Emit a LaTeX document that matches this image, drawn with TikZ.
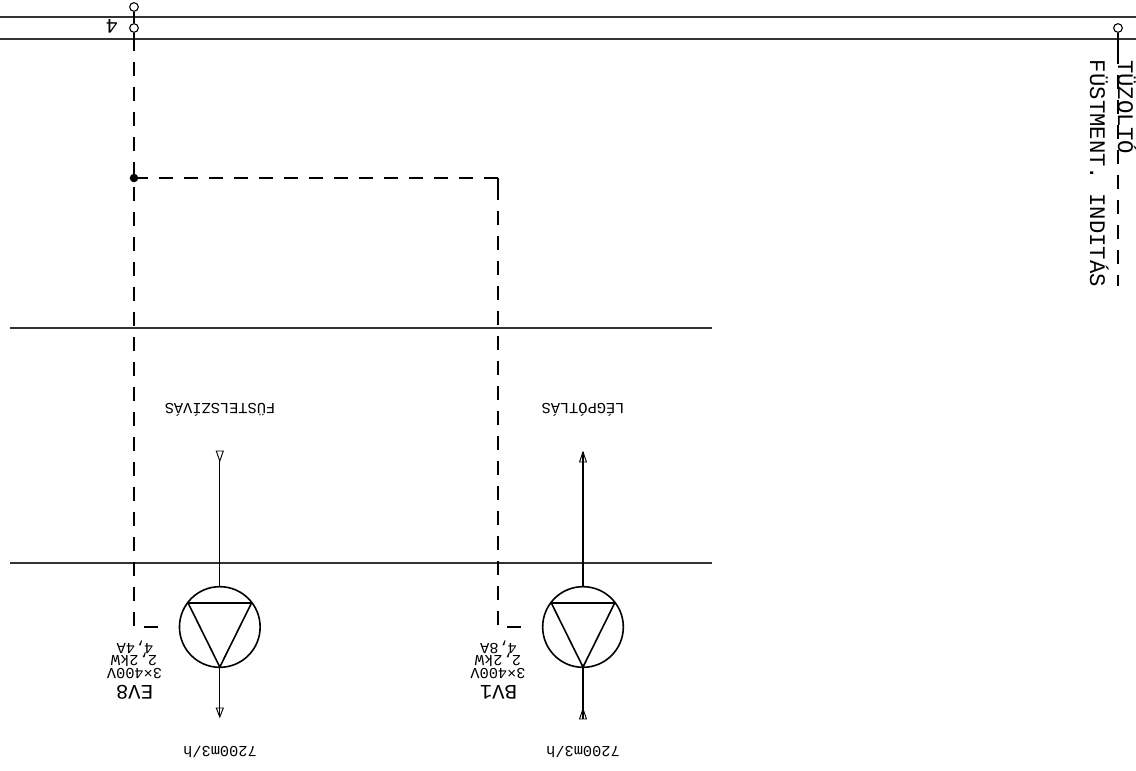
\documentclass[tikz,border=0pt]{standalone}
\usepackage{fontspec}
\setmainfont{Liberation Mono}
\tikzset{
  x=0.75pt,y=-0.75pt,
  wire/.style={line width=0.8pt,black!80},
  plain/.style={line width=0.8pt,black},
  ctrl/.style={line width=0.8pt,black,dash pattern=on 10.5pt off 8.25pt},
  term/.style={circle,draw,line width=0.8pt,fill=white,minimum size=6.5pt,inner sep=0pt},
  fanc/.style={circle,draw,line width=1.2pt,minimum size=60.5pt,inner sep=0pt},
  lbl/.style={inner sep=0pt,rotate=180,anchor=base},
  sidelbl/.style={inner sep=0pt,rotate=-90,anchor=base,font=\fontsize{16.7}{16.7}\selectfont},
  big/.style={font=\fontsize{15.5}{15.5}\selectfont},
  mid/.style={font=\fontsize{11.5}{11.5}\selectfont},
  head/.style={line width=0.7pt,black},
}
\begin{document}
\begin{tikzpicture}
\useasboundingbox (0,0) rectangle (1136,771);
\draw[wire] (0,17) -- (1136,17);
\draw[wire] (0,39) -- (1136,39);
\draw[wire] (10,328) -- (712,328);
\draw[wire] (10,563) -- (712,563);
% terminals
\node[term] (t1) at (134,7) {};
\node[term] (t2) at (134,28) {};
\node[term] (t3) at (1118,28) {};
\draw[plain] (t1) -- (t2);
\node[lbl,big] (n4) at (112,19) {4};
% control lines
\coordinate (j) at (134,178);
\coordinate (c1) at (498,178);
\coordinate (b1) at (134,627);
\coordinate (b2) at (498,627);
\coordinate (e1) at (167,627);
\coordinate (e2) at (531,627);
\node[fanc] (f1) at (219.8,627) {};
\node[fanc] (f2) at (583,627) {};
\fill (j) circle (3.2pt);
% left column
\coordinate (s1) at (134,51);
\coordinate (s2) at (134,62);
\draw[plain] (t2) -- (s1);
\draw[ctrl] (s2) -- (b1) -- (e1);
% branch
\coordinate (s3) at (136,178);
\coordinate (s4) at (498,186);
\draw[ctrl] (j) -- (c1);
\draw[plain] (c1) -- (s4);
\draw[ctrl] (s4) -- (b2) -- (e2);
% fans
\foreach \n/\cx in {f1/219.8,f2/583}{
  \coordinate (\n a) at (\cx-31.7,603);
  \coordinate (\n b) at (\cx+31.7,603);
  \coordinate (\n c) at (\cx,667);
  \draw[line width=1.2pt,line join=round] (\n a) -- (\n b) -- (\n c) -- cycle;
}
\coordinate (u1) at (219.8,461);
\coordinate (d1) at (219.8,717);
\coordinate (u2) at (583,452);
\coordinate (d2) at (583,709);
\coordinate (d2e) at (583,719);
\draw[plain] (f1.north) -- (u1);
\draw[plain] (f2.north) -- (u2);
\draw[plain] (f1c) -- (d1);
\draw[plain] (f2c) -- (d2e);
\draw[head] (u1) -- ++(-3.5,-10) -- ++(7,0) -- cycle;
\draw[head] (d1) -- ++(-3.5,-9) -- ++(7,0) -- cycle;
\draw[head] (u2) -- ++(3.5,10) -- ++(-7,0) -- cycle;
\draw[head] (d2) -- ++(3.5,10) -- ++(-7,0) -- cycle;
% text
\node[lbl,mid] (a1) at (220,403) {FÜSTELSZÍVÁS};
\node[lbl,mid] (a2) at (583,403) {LÉGPÓTLÁS};
\node[lbl,mid] (a3) at (220,746) {7200m3/h};
\node[lbl,mid] (a4) at (583,746) {7200m3/h};
\node[lbl,big] (a5) at (134.5,685) {EV8};
\node[lbl,big] (a6) at (498.5,685) {BV1};
\node[lbl,mid] (a7) at (134.5,668) {3×400V};
\node[lbl,mid] (a8) at (134,655) {2,2kW};
\node[lbl,mid] (a9) at (135,643) {4,4A};
\node[lbl,mid] (a10) at (498,668) {3×400V};
\node[lbl,mid] (a11) at (498,655) {2,2kW};
\node[lbl,mid] (a12) at (498.5,643) {4,8A};
\coordinate (r0) at (1118,50);
\coordinate (r1) at (1118,286);
\draw[plain] (t3) -- (r0);
\draw[ctrl] (r0) -- (r1);
\node[sidelbl] (s5) at (1118,107) {TÜZOLTÓ};
\node[sidelbl] (s6) at (1090,173.5) {FÜSTMENT. INDITÁS};
\end{tikzpicture}
\end{document}
